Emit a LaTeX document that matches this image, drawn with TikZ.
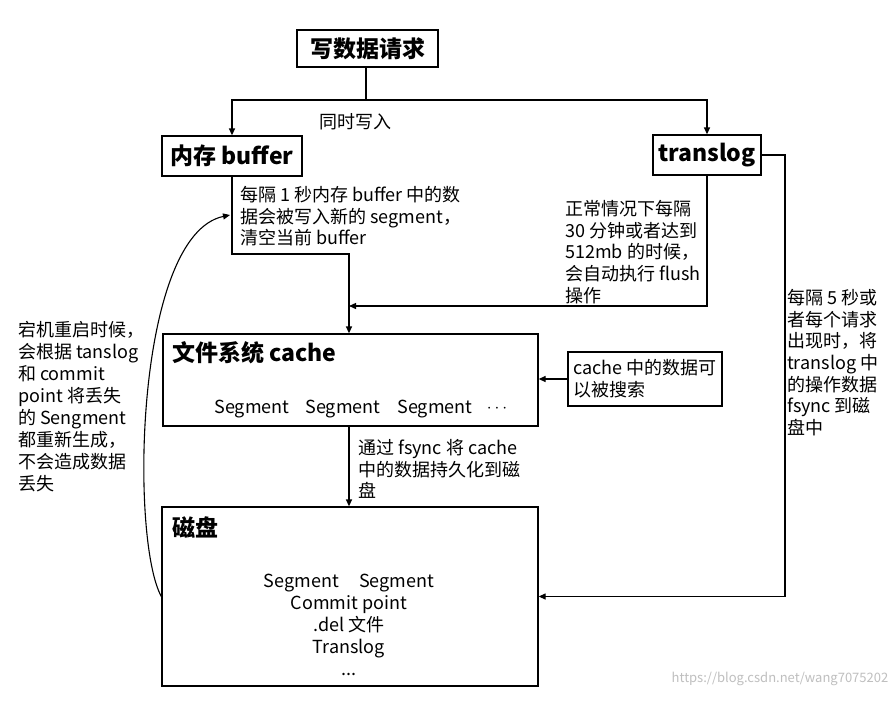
\documentclass[tikz,border=0pt]{standalone}
\usepackage{fontspec}
\setmainfont{Noto Sans CJK SC}
\usetikzlibrary{arrows.meta,calc}
\tikzset{
  box/.style={draw=black,line width=1.3pt,fill=white,inner sep=0pt},
  ttl/.style={font=\fontsize{23}{27}\selectfont\bfseries,inner sep=0pt},
  note/.style={font=\fontsize{18}{21.7}\selectfont,align=left,inner sep=0pt,anchor=north west},
  body/.style={font=\fontsize{18}{22}\selectfont,inner sep=0pt},
  arr/.style={line width=1.3pt,-{Triangle[length=7pt,width=6pt]}},
  ln/.style={line width=1.3pt}
}
\begin{document}
\begin{tikzpicture}[x=1pt,y=-1pt]
\useasboundingbox[fill=white] (0,0) rectangle (894,717);
% boxes
\node[box,minimum width=141pt,minimum height=37pt] (req) at (367.5,48.5) {};
\node[ttl] (reqt) at (req.center) {写数据请求};
\node[box,minimum width=140pt,minimum height=40pt] (buf) at (232,156) {};
\node[ttl] (buft) at (buf.center) {内存 buffer};
\node[box,minimum width=108pt,minimum height=40pt] (tl) at (707,155) {};
\node[ttl] (tlt) at (tl.center) {translog};
\node[box,minimum width=375pt,minimum height=92pt] (cache) at (350.5,380) {};
\node[ttl,anchor=west] (cachet) at (172,353) {文件系统 cache};
\node[box,minimum width=154pt,minimum height=54pt] (search) at (645,379) {};
\node[note,anchor=center] (searcht) at (search.center) {cache 中的数据可\\以被搜索};
\node[box,minimum width=376pt,minimum height=179pt] (disk) at (350,596.5) {};
\node[ttl,anchor=west] (diskt) at (172,528) {磁盘};
% cache segments
\node[body] (s1) at (252,409) {Segment};
\node[body] (s2) at (343,409) {Segment};
\node[body] (s3) at (435,409) {Segment};
\node[body] (s4) at (497,409) {$\cdots$};
% disk contents
\node[body,align=center] (diskc) at (349,625) {Segment\hspace{20pt}Segment\\Commit point\\.del 文件\\Translog\\...};
% connectors
\coordinate (split) at (366,100);
\draw[ln] (req.south -| split) -- (split);
\draw[arr] (split) -| (buf.north);
\draw[arr] (split) -| (tl.north);
\node[body] (same) at (355,122) {同时写入};
\coordinate (bend1) at (349,254);
\draw[arr] (buf.south) |- (bend1) -- (bend1 |- cache.north);
\coordinate (join) at (349,306);
\draw[arr] (tl.south) |- (join);
\draw[arr] (search.west) -- (search.west -| cache.east);
\draw[arr] (cache.south -| bend1) -- (disk.north -| bend1);
\coordinate (rc) at (785,155);
\draw[arr] (tl.east) -- (rc) |- (disk.east);
\coordinate (cin) at (230,215);
\draw[arr,line width=1.1pt] (disk.west) .. controls (130,540) and (135,235) .. (cin);
% notes
\node[note] (bufnote) at (240,186) {每隔 1 秒内存 buffer 中的数\\据会被写入新的 segment，\\清空当前 buffer};
\node[note] (tlnote) at (565,200) {正常情况下每隔\\30 分钟或者达到\\512mb 的时候，\\会自动执行 flush\\操作};
\node[note] (rnote) at (787,289) {每隔 5 秒或\\者每个请求\\出现时，将\\translog 中\\的操作数据\\fsync 到磁\\盘中};
\node[note,font=\fontsize{18}{22}\selectfont] (lnote) at (18,321) {宕机重启时候，\\会根据 tanslog\\和 commit\\point 将丢失\\的 Sengment\\都重新生成，\\不会造成数据\\丢失};
\node[note] (fnote) at (358,439) {通过 fsync 将 cache\\中的数据持久化到磁\\盘};
\node[font=\fontsize{13}{15}\selectfont,text=black!25,inner sep=0pt] (wm) at (780,679) {https://blog.csdn.net/wang7075202};
\end{tikzpicture}
\end{document}
